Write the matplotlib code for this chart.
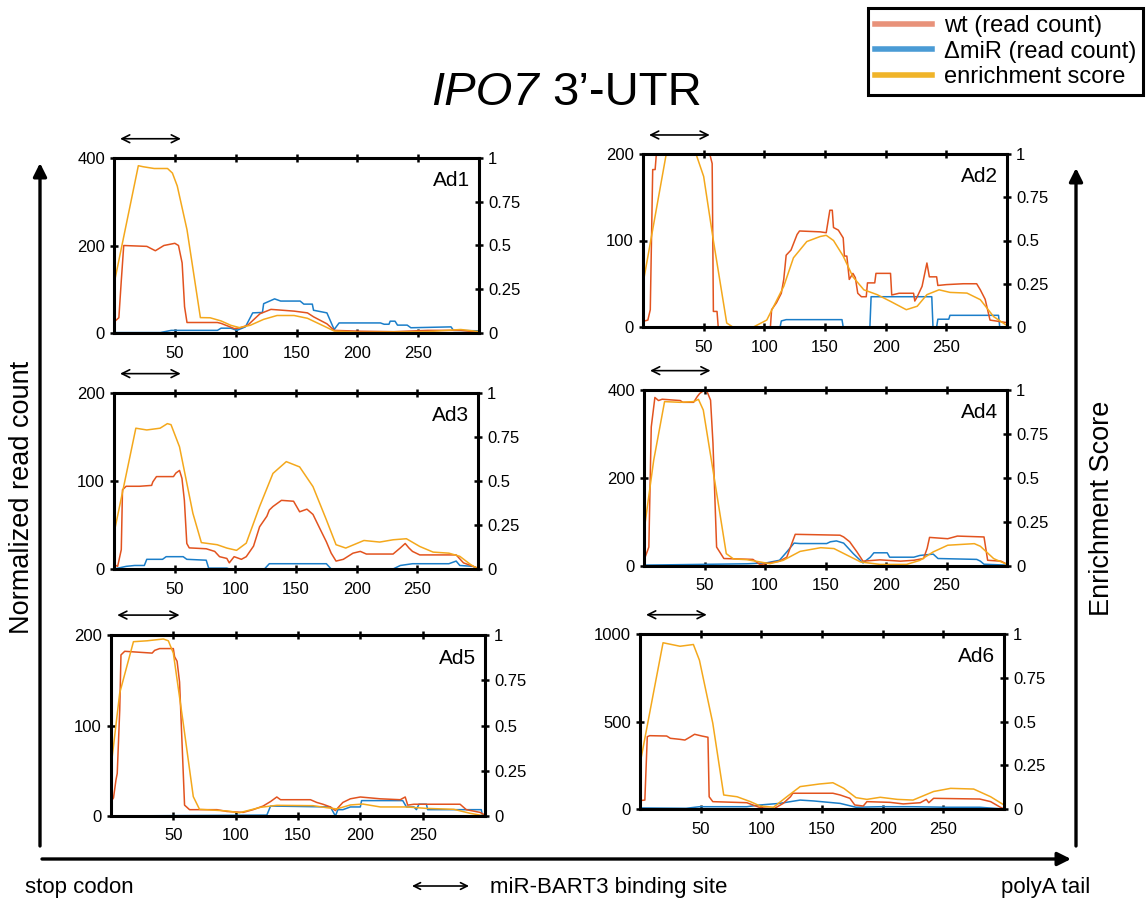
import matplotlib
matplotlib.use("Agg")
import matplotlib.pyplot as plt
from matplotlib.lines import Line2D
from matplotlib.patches import FancyArrowPatch

plt.rcParams['font.family'] = ['Liberation Sans', 'DejaVu Sans']

W, H = 1147, 901

# panel names and left-axis maxima
panels = ['Ad1', 'Ad2', 'Ad3', 'Ad4', 'Ad5', 'Ad6']
ymax = [400, 200, 200, 400, 200, 1000]
yticks = [[0, 200, 400], [0, 100, 200], [0, 100, 200], [0, 200, 400], [0, 100, 200], [0, 500, 1000]]
xticks = [50, 100, 150, 200, 250]
site = (5, 55)  # miR-BART3 binding site (nt)

# (position, value) pairs
ad1_wt = [(0, 25), (4, 35), (6, 120), (8, 200), (27, 198), (34, 188), (41, 200), (50, 205), (53, 200),
          (56, 160), (58, 60), (60, 24), (85, 24), (88, 22), (99, 10), (104, 12), (110, 18), (120, 44),
          (129, 54), (148, 50), (159, 46), (164, 37), (175, 21), (181, 6), (203, 4), (230, 3),
          (258, 6), (285, 6), (300, 2)]
ad1_mir = [(0, 1), (38, 1), (47, 6), (85, 6), (88, 11), (96, 11), (101, 6), (108, 14), (114, 46),
           (122, 47), (123, 67), (132, 78), (137, 73), (153, 73), (156, 66), (163, 66), (164, 52),
           (175, 46), (180, 14), (181, 8), (185, 23), (219, 23), (222, 20), (226, 20), (227, 27),
           (231, 27), (233, 18), (241, 18), (244, 12), (277, 14), (279, 6), (300, 5)]
ad1_es = [(0, 0.28), (20, 0.956), (24, 0.95), (33, 0.94), (44, 0.94), (48, 0.914), (52, 0.84),
          (60, 0.59), (71, 0.088), (79, 0.087), (88, 0.069), (96, 0.044), (103, 0.031), (112, 0.044),
          (123, 0.078), (134, 0.1), (148, 0.1), (159, 0.084), (173, 0.038), (181, 0.011), (203, 0.004),
          (258, 0.008), (285, 0.02), (300, 0.008)]

ad2_wt = [(0, 6.5), (4, 8), (6, 20), (8, 182), (10, 182), (11, 200), (55, 200), (57, 189), (58, 18),
          (61, 18), (62, 0), (105, 0), (106, 20), (110, 28), (114, 39), (116, 55), (118, 83), (122, 89),
          (127, 107), (129, 111), (146, 110), (151, 109), (154, 135), (156, 135), (157, 115), (161, 112),
          (165, 103), (166, 82), (168, 82), (170, 55), (173, 62), (175, 57), (177, 39), (180, 35),
          (184, 35), (185, 51), (191, 51), (192, 62), (204, 62), (205, 37), (211, 39), (223, 39),
          (224, 30), (226, 35), (230, 47), (234, 74), (236, 58), (242, 58), (243, 48), (250, 49),
          (264, 50), (275, 50), (278, 43), (282, 32), (286, 8), (300, 5)]
ad2_mir = [(0, 0), (113, 0), (114, 7), (118, 8.5), (164, 8.5), (165, 0), (187, 0), (188, 35),
           (238, 35), (239, 0), (242, 0), (243, 9), (252, 9), (253, 13.5), (293, 13.5), (294, 0), (300, 0)]
ad2_es = [(0, 0.25), (19, 0.994), (44, 0.994), (50, 0.87), (58, 0.5), (69, 0.023), (74, 0), (91, 0),
          (102, 0.04), (116, 0.235), (124, 0.4), (135, 0.494), (146, 0.523), (151, 0.53), (157, 0.5),
          (165, 0.41), (173, 0.29), (182, 0.215), (193, 0.187), (204, 0.148), (217, 0.1), (226, 0.12),
          (234, 0.187), (244, 0.215), (253, 0.2), (267, 0.196), (278, 0.158), (289, 0.06), (300, 0.008)]

ad3_wt = [(0, 5), (3, 3), (6, 22), (7, 90), (10, 94), (21, 94), (31, 95), (32, 99), (35, 105), (49, 105),
          (51, 109), (54, 112), (56, 103), (58, 78), (60, 29), (62, 24), (76, 23), (83, 20), (87, 14),
          (93, 12), (95, 7), (99, 14), (105, 11), (109, 14), (115, 26), (120, 48), (126, 60), (128, 67),
          (131, 71), (138, 78), (148, 77), (153, 65), (159, 68), (164, 62), (170, 45), (175, 31),
          (179, 18), (183, 9), (189, 11), (197, 18), (203, 20), (208, 17), (230, 17), (236, 24),
          (240, 29), (243, 24), (246, 20), (252, 16), (271, 16), (282, 16), (288, 7), (296, 3), (300, 1)]
ad3_mir = [(0, 0), (10, 3), (17, 4), (25, 4), (27, 11), (40, 11), (43, 14), (57, 14), (60, 11), (76, 10),
           (78, 1), (93, 1), (95, 0), (124, 0), (128, 6), (175, 6), (179, 0), (230, 0), (236, 4),
           (246, 6), (276, 6), (282, 9), (285, 4), (296, 3), (300, 0)]
ad3_es = [(0, 0.204), (18, 0.8), (27, 0.79), (38, 0.8), (44, 0.826), (47, 0.82), (54, 0.694), (65, 0.317),
          (72, 0.15), (85, 0.138), (93, 0.119), (101, 0.106), (109, 0.147), (120, 0.355), (131, 0.543),
          (142, 0.61), (153, 0.58), (164, 0.468), (175, 0.28), (183, 0.138), (191, 0.119), (206, 0.162),
          (219, 0.153), (230, 0.166), (241, 0.172), (252, 0.128), (263, 0.096), (276, 0.09),
          (285, 0.072), (294, 0.025), (300, 0)]

ad4_wt = [(0, 13), (4, 43), (6, 316), (9, 383), (12, 376), (15, 379), (30, 376), (32, 372), (41, 372),
          (44, 385), (46, 392), (49, 398), (52, 397), (55, 377), (57, 279), (60, 43), (66, 17), (90, 15),
          (93, 9), (96, 3), (112, 11), (118, 20), (122, 50), (125, 72), (162, 70), (165, 66), (170, 55),
          (176, 32), (181, 11), (195, 14), (212, 11), (223, 13), (231, 17), (234, 40), (236, 65),
          (251, 62), (259, 68), (281, 66), (284, 13), (295, 11), (300, 4)]
ad4_mir = [(0, 2), (85, 5), (101, 7), (112, 13), (118, 32), (124, 52), (129, 51), (151, 51), (154, 55),
           (159, 57), (165, 52), (173, 28), (181, 7), (187, 20), (190, 30), (201, 30), (203, 20),
           (223, 20), (228, 24), (239, 27), (243, 17), (275, 15), (278, 11), (281, 4), (300, 2)]
ad4_es = [(0, 0.197), (8, 0.6), (17, 0.934), (30, 0.93), (41, 0.934), (45, 0.947), (49, 0.886),
          (57, 0.545), (68, 0.07), (74, 0.04), (85, 0.036), (96, 0.023), (104, 0.013), (115, 0.032),
          (129, 0.083), (146, 0.104), (157, 0.099), (168, 0.061), (179, 0.023), (195, 0.009),
          (217, 0.009), (228, 0.032), (239, 0.08), (251, 0.118), (273, 0.127), (278, 0.112),
          (289, 0.042), (300, 0.009)]

ad5_wt = [(0, 16), (2, 20), (4, 40), (5, 47), (7, 117), (8, 178), (11, 182), (33, 180), (35, 183),
          (39, 185), (45, 185), (50, 185), (51, 176), (53, 171), (55, 148), (57, 80), (59, 12), (63, 7),
          (85, 7), (93, 5), (106, 4), (114, 7), (122, 11), (128, 16), (133, 21), (136, 18), (160, 18),
          (165, 15), (170, 13), (176, 10), (180, 6), (186, 15), (192, 19), (200, 21), (216, 19),
          (232, 18), (236, 21), (238, 12), (243, 13), (280, 13), (285, 7), (296, 4), (300, 1)]
ad5_mir = [(0, 0), (125, 1), (128, 11), (176, 10), (180, 0), (182, 7), (186, 7), (192, 10), (200, 10),
           (201, 17), (234, 17), (237, 10), (243, 10), (245, 7), (247, 13), (253, 13), (254, 7),
           (297, 7), (298, 0), (300, 0)]
ad5_es = [(0, 0.27), (7, 0.68), (18, 0.963), (29, 0.968), (42, 0.978), (46, 0.968), (50, 0.9),
          (58, 0.51), (66, 0.107), (71, 0.037), (93, 0.028), (103, 0.018), (120, 0.048), (133, 0.059),
          (162, 0.057), (173, 0.046), (181, 0.039), (192, 0.061), (202, 0.066), (216, 0.05),
          (237, 0.05), (253, 0.042), (275, 0.037), (288, 0.015), (300, 0)]

ad6_wt = [(0, 48), (4, 51), (6, 413), (8, 419), (22, 417), (25, 404), (33, 398), (37, 394), (41, 410),
          (45, 427), (51, 417), (56, 410), (57, 70), (60, 42), (88, 36), (93, 23), (99, 8), (110, 0),
          (118, 32), (124, 70), (126, 90), (143, 90), (159, 90), (165, 80), (173, 61), (177, 23),
          (184, 17), (187, 42), (206, 38), (217, 29), (231, 36), (236, 55), (238, 36), (242, 61),
          (280, 57), (289, 42), (297, 10), (300, 0)]
ad6_mir = [(0, 6), (38, 4), (49, 13), (88, 13), (99, 23), (115, 32), (132, 51), (143, 46), (165, 32),
           (178, 10), (198, 13), (225, 13), (253, 10), (280, 10), (300, 0)]
ad6_es = [(0, 0.257), (11, 0.66), (19, 0.95), (33, 0.93), (44, 0.94), (49, 0.85), (60, 0.49), (69, 0.08),
          (80, 0.07), (91, 0.042), (99, 0.017), (110, 0.01), (121, 0.07), (132, 0.128), (148, 0.143),
          (159, 0.15), (168, 0.118), (178, 0.065), (187, 0.055), (198, 0.067), (212, 0.055),
          (225, 0.051), (242, 0.1), (256, 0.118), (275, 0.114), (289, 0.07), (300, 0.023)]

wt_all = [ad1_wt, ad2_wt, ad3_wt, ad4_wt, ad5_wt, ad6_wt]
mir_all = [ad1_mir, ad2_mir, ad3_mir, ad4_mir, ad5_mir, ad6_mir]
es_all = [ad1_es, ad2_es, ad3_es, ad4_es, ad5_es, ad6_es]

# panel boxes in pixels: left, top, right, bottom
boxes = [(114, 158, 479, 333), (643, 154, 1007, 327),
         (114, 393, 478, 569), (644, 390, 1007, 566),
         (111, 635, 485, 816), (640, 634, 1004, 809)]

c_wt, c_mir, c_es = '#E2531F', '#1B7EC9', '#F4A81C'

fig = plt.figure(figsize=(W / 100, H / 100), dpi=100)


def rect(l, t, r, b):
    return [l / W, 1 - b / H, (r - l) / W, (b - t) / H]


def fx(px):
    return px / W


def fy(py):
    return 1 - py / H


for i, name in enumerate(panels):
    ax = fig.add_axes(rect(*boxes[i]))
    ax2 = ax.twinx()
    wx, wy = zip(*wt_all[i])
    mx, my = zip(*mir_all[i])
    ex, ey = zip(*es_all[i])
    ax.plot(mx, my, color=c_mir, lw=1.1, clip_on=False)
    ax.plot(wx, wy, color=c_wt, lw=1.1, clip_on=False)
    ax2.plot(ex, ey, color=c_es, lw=1.1, clip_on=False)
    ax.set_xlim(0, 300)
    ax.set_ylim(0, ymax[i])
    ax2.set_ylim(0, 1)
    ax.set_xticks(xticks)
    ax.set_yticks(yticks[i])
    ax2.set_yticks([0, 0.25, 0.5, 0.75, 1])
    ax2.set_yticklabels(['0', '0.25', '0.5', '0.75', '1'])
    ax.tick_params(axis='x', direction='inout', length=6, width=1.8, top=True, labelsize=12, pad=6)
    ax.tick_params(axis='y', direction='inout', length=6, width=1.8, labelsize=12)
    ax2.tick_params(axis='y', direction='inout', length=6, width=1.8, labelsize=12)
    for s in ax2.spines.values():
        s.set_linewidth(2.2)
    ax.text(0.975, 0.87, name, transform=ax.transAxes, ha='right', va='center', fontsize=15)
    ax.annotate('', xy=(site[1], 1.11), xytext=(site[0], 1.11),
                xycoords=('data', 'axes fraction'), textcoords=('data', 'axes fraction'),
                arrowprops=dict(arrowstyle='<->', lw=1.2, color='black', shrinkA=0, shrinkB=0,
                                mutation_scale=14), annotation_clip=False)

# title
fig.text(fx(539), fy(105), 'IPO7', style='italic', fontsize=34, ha='right', va='baseline')
fig.text(fx(552), fy(105), '3’-UTR', fontsize=34, ha='left', va='baseline')

# legend
handles = [Line2D([], [], color='#E8927A', lw=4), Line2D([], [], color='#4A9BD5', lw=4),
           Line2D([], [], color='#F0B429', lw=4)]
leg = fig.legend(handles, ['wt (read count)', 'ΔmiR (read count)', 'enrichment score'],
                 loc='upper right', bbox_to_anchor=(fx(1143), fy(8)), fontsize=17,
                 fancybox=False, edgecolor='black', framealpha=1, handlelength=2.4,
                 borderpad=0.3, labelspacing=0.15, handletextpad=0.5, borderaxespad=0)
leg.get_frame().set_linewidth(2.2)

# big arrows
arrow_kw = dict(arrowstyle='-|>', lw=2.4, color='black', mutation_scale=20, shrinkA=0, shrinkB=0)
fig.add_artist(FancyArrowPatch((fx(40), fy(846)), (fx(40), fy(163)), transform=fig.transFigure, **arrow_kw))
fig.add_artist(FancyArrowPatch((fx(1076), fy(846)), (fx(1076), fy(168)), transform=fig.transFigure, **arrow_kw))
fig.add_artist(FancyArrowPatch((fx(42), fy(859)), (fx(1071), fy(859)), transform=fig.transFigure, **arrow_kw))

fig.text(fx(22), fy(497), 'Normalized read count', rotation=90, ha='center', va='center', fontsize=19.5)
fig.text(fx(1102), fy(508), 'Enrichment Score', rotation=90, ha='center', va='center', fontsize=19.5)

fig.text(fx(25), fy(887), 'stop codon', ha='left', va='center', fontsize=16)
fig.text(fx(490), fy(887), 'miR-BART3 binding site', ha='left', va='center', fontsize=16)
fig.text(fx(1001), fy(887), 'polyA tail', ha='left', va='center', fontsize=16)
fig.add_artist(FancyArrowPatch((fx(412), fy(886)), (fx(469), fy(886)), transform=fig.transFigure,
                               arrowstyle='<->', lw=1.2, color='black', mutation_scale=12,
                               shrinkA=0, shrinkB=0))

fig.savefig('out.png', dpi=100)
